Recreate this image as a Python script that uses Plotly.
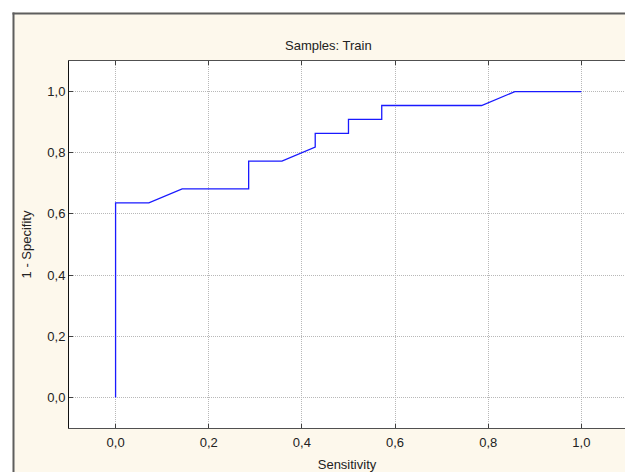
import plotly.graph_objects as go

# ROC step curve
sensitivity = [0.0, 0.0, 0.0714, 0.1429, 0.2857, 0.2857, 0.3571, 0.4286, 0.4286,
               0.5, 0.5, 0.5714, 0.5714, 0.7857, 0.8571, 1.0]
one_minus_spec = [0.0, 0.6364, 0.6364, 0.6818, 0.6818, 0.7727, 0.7727, 0.8182, 0.8636,
                  0.8636, 0.9091, 0.9091, 0.9545, 0.9545, 1.0, 1.0]
tick_vals = [0.0, 0.2, 0.4, 0.6, 0.8, 1.0]

W, H = 625, 472
L, R, T, B = 69, 0, 61, 44
pw, ph = W - L - R, H - T - B

def px(x):
    return (x - L) / pw

def py(y):
    return (H - B - y) / ph

cream = "#fdf8ec"
frame = "#5e5e5e"
font = "Liberation Sans, Arial, sans-serif"

fig = go.Figure()
fig.add_trace(go.Scatter(x=sensitivity, y=one_minus_spec, mode="lines",
                         line=dict(color="#1a1aff", width=1.3), showlegend=False,
                         hoverinfo="skip"))

shapes = [
    dict(type="rect", xref="paper", yref="paper", x0=-0.2, x1=px(12.5), y0=-0.3, y1=1.3,
         fillcolor="white", line=dict(width=0), layer="below"),
    dict(type="rect", xref="paper", yref="paper", x0=-0.2, x1=1.2, y0=py(12.5), y1=1.3,
         fillcolor="white", line=dict(width=0), layer="below"),
    dict(type="line", xref="paper", yref="paper", x0=px(13.5), x1=px(13.5), y0=-0.3, y1=py(12.5),
         line=dict(color=frame, width=2)),
    dict(type="line", xref="paper", yref="paper", x0=px(12.5), x1=1.2, y0=py(13.5), y1=py(13.5),
         line=dict(color=frame, width=2)),
]

axis_common = dict(
    showgrid=True, gridcolor="#b8b8b8", griddash="1px,1px", gridwidth=1,
    zeroline=False, ticks="inside", ticklen=4, tickcolor="#404040",
    tickvals=tick_vals, tickformat=".1f",
    tickfont=dict(family=font, size=13, color="#222222"),
    showline=True, linewidth=1,
)

fig.update_layout(
    width=W, height=H,
    margin=dict(l=L, r=R, t=T, b=B, pad=0),
    paper_bgcolor=cream, plot_bgcolor="white",
    separators=", ",
    shapes=shapes,
    font=dict(family=font, size=13, color="#222222"),
    annotations=[dict(text="Samples: Train", xref="paper", yref="paper",
                      x=px(328), y=py(45), xanchor="center", yanchor="middle",
                      showarrow=False, font=dict(family=font, size=13, color="#222222"))],
    xaxis=dict(range=[-0.1, -0.1 + pw / 465.8], linecolor="#505050", mirror="ticks",
               ticklabelstandoff=2,
               title=dict(text="Sensitivity", standoff=12,
                          font=dict(family=font, size=13, color="#222222")),
               automargin=False, **axis_common),
    yaxis=dict(range=[-0.1, 1.1], linecolor="#111111",
               title=dict(text="1 - Specifity", standoff=12,
                          font=dict(family=font, size=13, color="#222222")),
               automargin=False, **axis_common),
)

post = (
    "document.documentElement.style.overflow='hidden';"
    "document.documentElement.style.margin='0';"
    "document.body.style.margin='0';"
    "document.body.style.padding='0';"
    "document.body.style.overflow='hidden';"
)
fig.write_html("out.html", config={"displayModeBar": False, "staticPlot": True},
               post_script=post)
